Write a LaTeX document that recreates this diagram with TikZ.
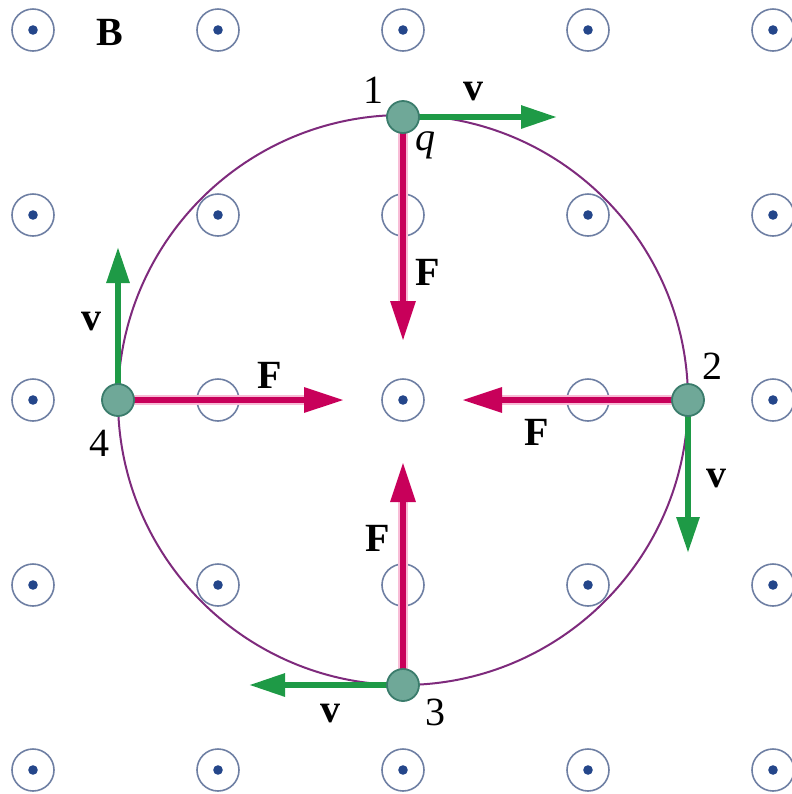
\documentclass[tikz,border=0pt]{standalone}
\usepackage{fontspec}
\setmainfont{Liberation Serif}
\usepackage{tikz}
\usetikzlibrary{arrows.meta,positioning,calc}
\definecolor{Crimson}{HTML}{C8005A}
\definecolor{Blush}{HTML}{F8BCD6}
\definecolor{Leaf}{HTML}{1E9A46}
\definecolor{Teal}{HTML}{6FA898}
\definecolor{DeepTeal}{HTML}{3B7C6C}
\definecolor{Plum}{HTML}{7E2A7C}
\definecolor{Ring}{HTML}{6E7FA3}
\definecolor{Ink}{HTML}{24468A}

\begin{document}
\begin{tikzpicture}[x=0.5pt,y=-0.5pt,
  every node/.style={font=\fontsize{20}{22}\selectfont,inner sep=0pt},
  bfield/.style={circle,draw=Ring,line width=0.8pt,minimum size=21pt,inner sep=0pt,
    path picture={\fill[Ink] (path picture bounding box.center) circle (2.4pt);}},
  charge/.style={circle,fill=Teal,draw=DeepTeal,line width=0.9pt,minimum size=16pt,inner sep=0pt},
  orbit/.style={Plum,line width=1pt},
  force/.style={Crimson,line width=3.2pt,-{Triangle[length=20pt,width=12pt]},
    preaction={draw=Blush,line width=5pt,-,shorten >=14pt}},
  vel/.style={Leaf,line width=3pt,-{Triangle[length=18pt,width=11pt]}},
  bold/.style={font=\fontsize{20}{22}\selectfont\bfseries}
]
\useasboundingbox (0,0) rectangle (792,794);

% field pointing out of the page
\foreach \i in {0,...,4}
  \foreach \j in {0,...,4}
    \node[bfield] (b\i\j) at (33+185*\i,30+185*\j) {};

\draw[orbit] (b22.center) circle (142.5pt);

% positions on the orbit and arrow tips
\coordinate (p1) at (403,117);
\coordinate (p2) at (688,400);
\coordinate (p3) at (403,685);
\coordinate (p4) at (118,400);
\coordinate (f1) at (403,341);
\coordinate (f2) at (462,400);
\coordinate (f3) at (403,462);
\coordinate (f4) at (344,400);
\coordinate (v1) at (557,117);
\coordinate (v2) at (688,553);
\coordinate (v3) at (249,685);
\coordinate (v4) at (118,247);

\draw[force] (p1) -- (f1);
\draw[force] (p2) -- (f2);
\draw[force] (p3) -- (f3);
\draw[force] (p4) -- (f4);
\draw[vel] (p1) -- (v1);
\draw[vel] (p2) -- (v2);
\draw[vel] (p3) -- (v3);
\draw[vel] (p4) -- (v4);

\node[charge] (c1) at (p1) {};
\node[charge] (c2) at (p2) {};
\node[charge] (c3) at (p3) {};
\node[charge] (c4) at (p4) {};

% labels
\node[bold] (lb) at (110,32) {B};
\node (n1) at (373,90) {1};
\node[bold] (lv1) at (473,92) {v};
\node (lq) at (425,145) {\itshape q};
\node[bold] (lf1) at (428,272) {F};
\node (n2) at (712,366) {2};
\node[bold] (lf2) at (537,432) {F};
\node[bold] (lv2) at (716,479) {v};
\node (n3) at (435,712) {3};
\node[bold] (lf3) at (378,538) {F};
\node[bold] (lv3) at (330,714) {v};
\node (n4) at (100,443) {4};
\node[bold] (lv4) at (92,322) {v};
\node[bold] (lf4) at (270,375) {F};
\end{tikzpicture}
\end{document}
